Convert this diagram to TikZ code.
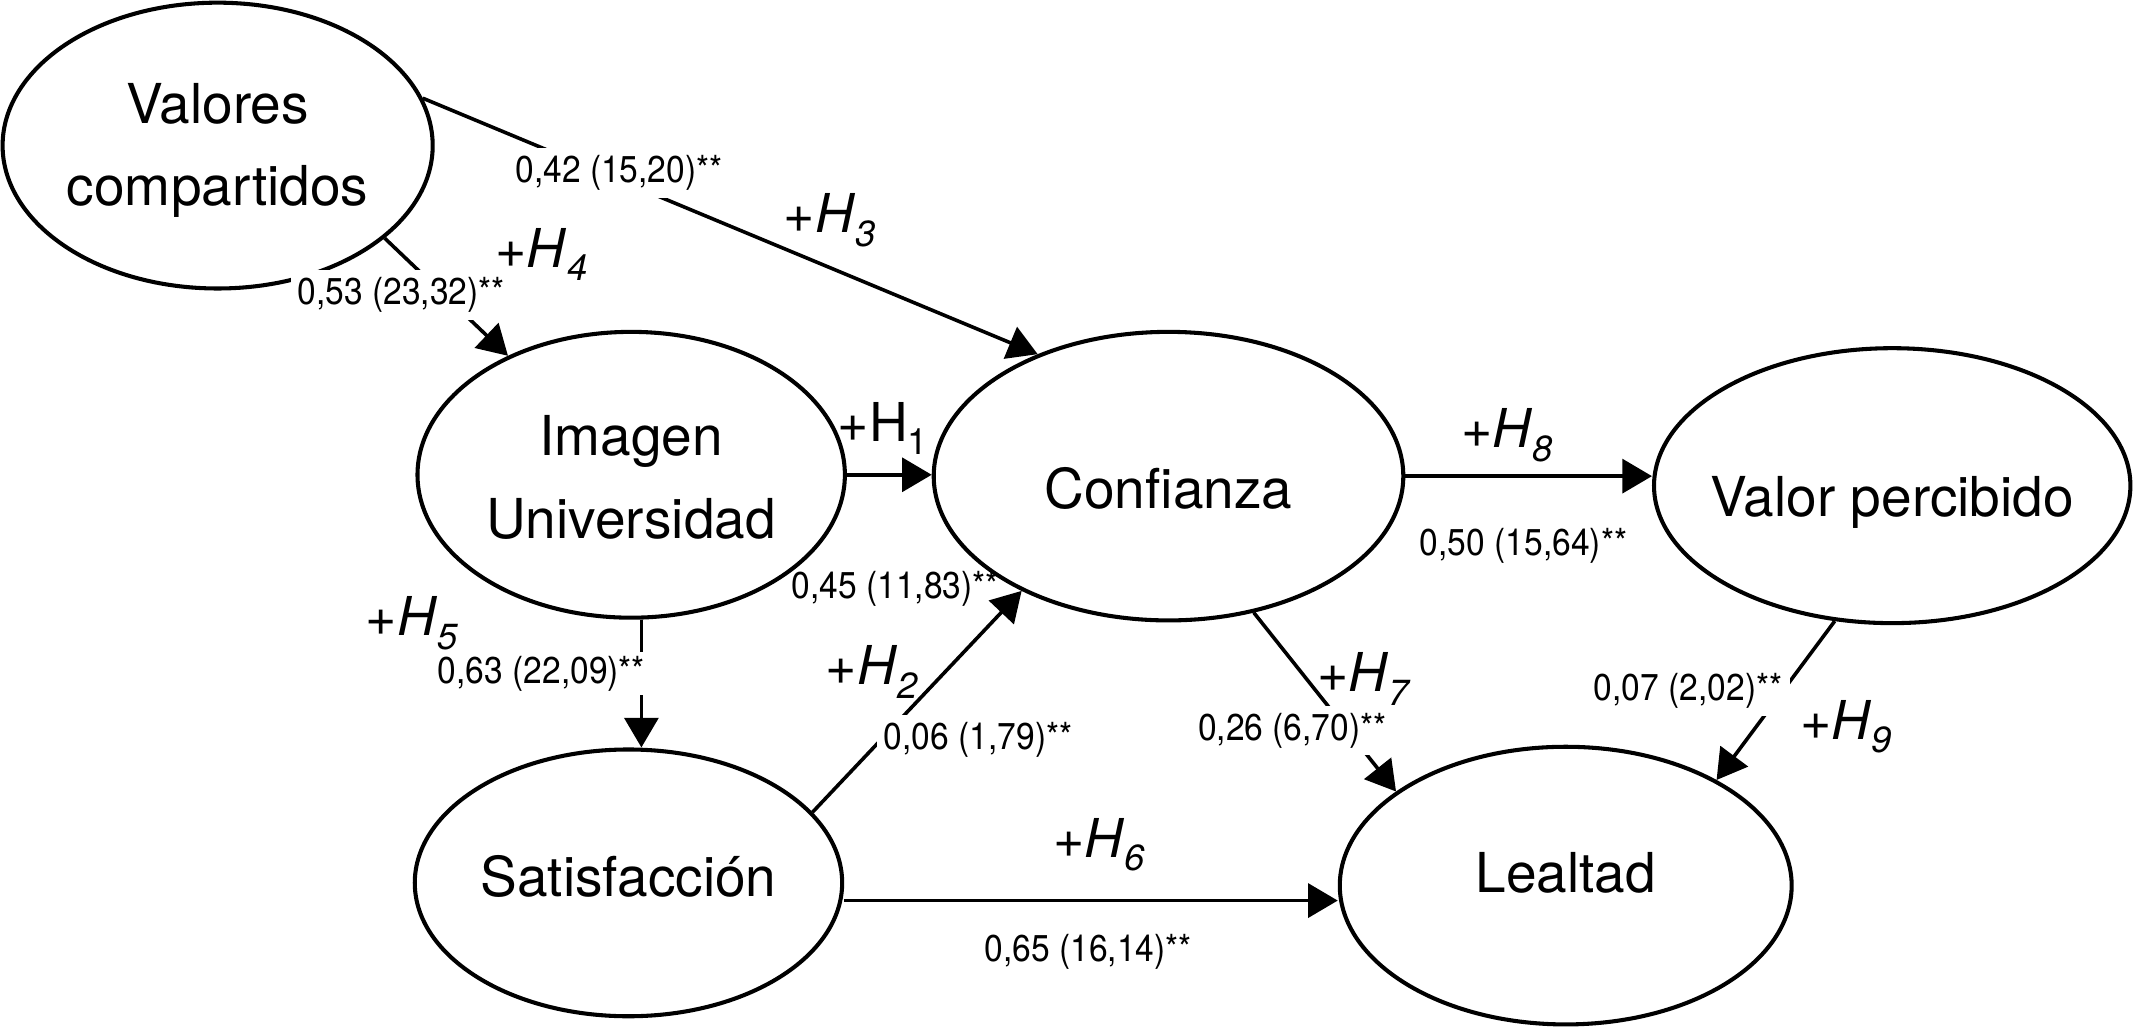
\documentclass[tikz,border=0pt]{standalone}
\usepackage{fontspec}
\setmainfont{TeX Gyre Heros}
\newfontfamily\coeffont[FakeStretch=0.9]{TeX Gyre Heros}
\usetikzlibrary{shapes.geometric,arrows.meta,positioning}

% hypothesis label, subscript set low
\newcommand{\hyp}[2][\textit]{+#1{H}\raisebox{-2.8pt}{\fontsize{7.6}{9}\selectfont#1{#2}}}
% text inside an ellipse, moved without resizing the ellipse
\newcommand{\inell}[2][-3.5pt]{\raisebox{#1}[0pt][0pt]{\makebox[0pt]{\begin{tabular}{@{}c@{}}#2\end{tabular}}}}

\begin{document}
\begin{tikzpicture}[x=0.01cm, y=-0.01cm,
    latent/.style={ellipse, draw, line width=0.85pt, inner sep=0pt,
      font=\fontsize{11.5}{17.3}\selectfont},
    effect/.style={line width=0.75pt, -{Triangle[length=6.2pt,width=7.1pt]}},
    coef/.style={font=\coeffont\fontsize{7.8}{8}\selectfont, inner sep=1.5pt},
    cut/.style={fill=white},
    hyp/.style={font=\fontsize{11.2}{12}\selectfont, inner sep=0pt}]
    \useasboundingbox (0,0) rectangle (1568,756);

    % constructs
    \node[latent, minimum width=3.16cm, minimum height=2.1cm] (val) at (160,107) {\inell{Valores\\compartidos}};
    \node[latent, minimum width=3.14cm, minimum height=2.1cm] (img) at (464,349) {\inell[-4.2pt]{Imagen\\Universidad}};
    \node[latent, minimum width=3.45cm, minimum height=2.12cm] (conf) at (859,350) {\inell[-6.3pt]{Confianza}};
    \node[latent, minimum width=3.5cm, minimum height=2.02cm] (vp) at (1391,357) {\inell[-5.9pt]{Valor percibido}};
    \node[latent, minimum width=3.14cm, minimum height=1.96cm] (sat) at (462,649) {\inell[-2.4pt]{Satisfacción}};
    \node[latent, minimum width=3.32cm, minimum height=2.04cm] (leal) at (1151,651) {\inell[-0.9pt]{Lealtad}};

    % paths
    \draw[effect] (val.13) -- (conf.137);
    \draw[effect] (val.-29) -- (img.136);
    \draw[effect] (img.east) -- (img.east -| conf.west);
    \draw[effect] ([xshift=0.075cm]img.south) -- ([xshift=0.075cm]img.south |- sat.north);
    \draw[effect] (sat.21) -- (conf.218);
    \draw[effect] ([yshift=-0.13cm]sat.east) -- ([yshift=-0.13cm]sat.east -| leal.west);
    \draw[effect] (conf.east) -- (conf.east -| vp.west);
    \draw[effect] (conf.-58) -- (leal.151);
    \draw[effect] (vp.247) -- (leal.35);

    % coefficients (t values in brackets)
    \node[coef, cut] (c3) at (455,127) {0,42 (15,20)**};
    \node[coef, cut] (c4) at (295,217) {0,53 (23,32)**};
    \node[coef] (c1) at (658,433) {0,45 (11,83)**};
    \node[coef, cut, inner sep=0.8pt] (c5) at (398,495) {0,63 (22,09)**};
    \node[coef, cut] (c2) at (719,544) {0,06 (1,79)**};
    \node[coef] (c6) at (800,700) {0,65 (16,14)**};
    \node[coef, cut] (c7) at (950,537) {0,26 (6,70)**};
    \node[coef] (c8) at (1120,401) {0,50 (15,64)**};
    \node[coef, cut] (c9) at (1241,508) {0,07 (2,02)**};

    % hypotheses
    \node[hyp] (h1) at (649,315) {\hyp[\textup]{1}};
    \node[hyp] (h2) at (641,494) {\hyp{2}};
    \node[hyp] (h3) at (610,162) {\hyp{3}};
    \node[hyp] (h4) at (398,187) {\hyp{4}};
    \node[hyp] (h5) at (303,458) {\hyp{5}};
    \node[hyp] (h6) at (808,621) {\hyp{6}};
    \node[hyp] (h7) at (1003,499) {\hyp{7}};
    \node[hyp] (h8) at (1108,320) {\hyp{8}};
    \node[hyp] (h9) at (1357,534) {\hyp{9}};
\end{tikzpicture}
\end{document}
